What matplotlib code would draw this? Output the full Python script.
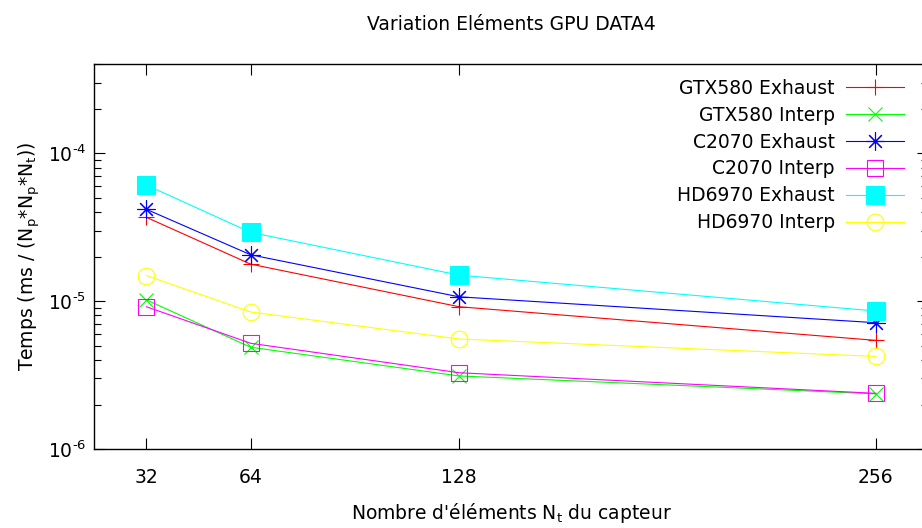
import numpy as np
import matplotlib
matplotlib.use("Agg")
import matplotlib.pyplot as plt
from matplotlib.ticker import LogLocator, NullFormatter, FuncFormatter

# nombre d'elements du capteur
n_elem = [32, 64, 128, 256]

# temps (ms / (Np*Np*Nt))
gtx580_exhaust = [3.69e-5, 1.78e-5, 9.17e-6, 5.43e-6]
gtx580_interp = [1.02e-5, 4.88e-6, 3.12e-6, 2.36e-6]
c2070_exhaust = [4.18e-5, 2.06e-5, 1.07e-5, 7.15e-6]
c2070_interp = [9.17e-6, 5.19e-6, 3.28e-6, 2.38e-6]
hd6970_exhaust = [6.10e-5, 2.92e-5, 1.50e-5, 8.58e-6]
hd6970_interp = [1.49e-5, 8.45e-6, 5.55e-6, 4.23e-6]

plt.rcParams['font.family'] = ['DejaVu Sans']
plt.rcParams['mathtext.default'] = 'regular'
plt.rcParams['axes.unicode_minus'] = False

fig = plt.figure(figsize=(9.22, 5.28), dpi=100)
ax = fig.add_axes([0.1023, 0.1496, 0.9042, 0.7298])

fs = 13.5
lw = 0.8
ax.plot(n_elem, gtx580_exhaust, color='#ff0000', lw=lw, marker='+', ms=12, mew=lw, label='GTX580 Exhaust')
ax.plot(n_elem, gtx580_interp, color='#00ff00', lw=lw, marker='x', ms=10, mew=lw, label='GTX580 Interp')
ax.plot(n_elem, c2070_exhaust, color='#0000ff', lw=lw, marker=(8, 2, 0), ms=13, mew=lw, label='C2070 Exhaust')
ax.plot(n_elem, c2070_interp, color='#ff00ff', lw=lw, marker='s', ms=11, mew=lw, mfc='none', label='C2070 Interp')
ax.plot(n_elem, hd6970_exhaust, color='#00ffff', lw=lw, marker='s', ms=12.5, mew=lw, label='HD6970 Exhaust')
ax.plot(n_elem, hd6970_interp, color='#ffff00', lw=lw, marker='o', ms=12, mew=lw, mfc='none', label='HD6970 Interp')

ax.set_yscale('log')
ax.set_ylim(1e-6, 4.04e-4)
ax.set_xlim(16, 272)
ax.set_xticks(n_elem)
ax.set_xticklabels([str(n) for n in n_elem])
ax.yaxis.set_major_locator(LogLocator(base=10, numticks=10))
ax.yaxis.set_major_formatter(FuncFormatter(lambda v, p: '$10^{\\text{-%d}}$' % round(-np.log10(v))))
ax.yaxis.set_minor_locator(LogLocator(base=10, subs=np.arange(2, 10), numticks=20))
ax.yaxis.set_minor_formatter(NullFormatter())

ax.tick_params(which='both', direction='in', top=True, right=True, labelsize=fs, width=0.8)
ax.tick_params(which='major', length=8)
ax.tick_params(which='minor', length=5)
ax.tick_params(axis='x', pad=14)
ax.tick_params(axis='y', pad=6)
for s in ax.spines.values():
    s.set_linewidth(1.0)

ax.set_title('Variation Eléments GPU DATA4', fontsize=fs, pad=24)
ax.set_xlabel("Nombre d'éléments N$_t$ du capteur", fontsize=fs, labelpad=10)
ax.set_ylabel('Temps (ms / (N$_p$*N$_p$*N$_t$))', fontsize=fs, labelpad=4)

leg = ax.legend(loc='upper right', bbox_to_anchor=(0.985, 0.99), markerfirst=False, numpoints=1,
                frameon=False, fontsize=fs, handlelength=3.1, labelspacing=0.42, handletextpad=0.6,
                borderaxespad=0.2)

fig.savefig('out.png', dpi=100)
